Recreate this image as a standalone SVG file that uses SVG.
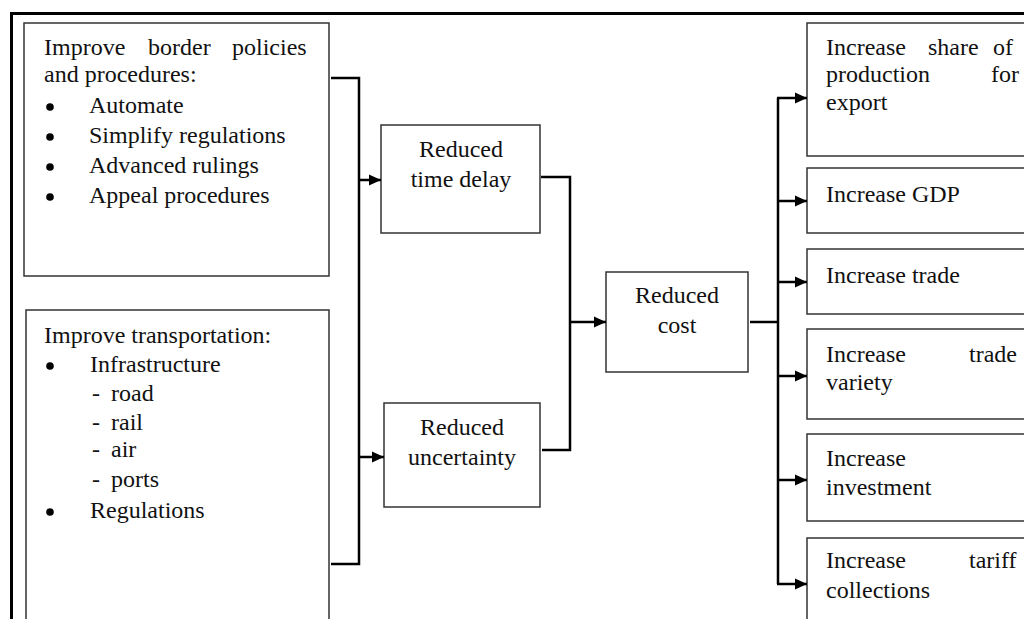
<svg xmlns="http://www.w3.org/2000/svg" width="1024" height="619" viewBox="0 0 1024 619">
<style>
.box{fill:#fff;stroke:#333;stroke-width:1.5}
.frame{fill:none;stroke:#000;stroke-width:3}
.t{font-family:'Liberation Serif','DejaVu Serif',serif;font-size:24px;fill:#111}
.c{text-anchor:middle}
.con{fill:none;stroke:#000;stroke-width:2.5}
</style>
<defs>
<marker id="ah" viewBox="0 0 12 12" refX="12" refY="6" markerWidth="12" markerHeight="12" markerUnits="userSpaceOnUse" orient="auto">
<path d="M0,0.5 L12,6 L0,11.5 Z" fill="#000"/>
</marker>
</defs>
<rect x="0" y="0" width="1024" height="619" fill="#fff"/>
<path class="frame" d="M11.5,640 V13.5 H1040"/>

<g id="border-policies">
<rect class="box" x="24" y="23" width="305" height="253"/>
<text class="t" y="55"><tspan x="44">Improve</tspan><tspan x="148">border</tspan><tspan x="232">policies</tspan></text>
<text class="t" x="44" y="82">and procedures:</text>
<circle cx="50" cy="107" r="3.8"/><text class="t" x="89" y="113">Automate</text>
<circle cx="50" cy="137" r="3.8"/><text class="t" x="89" y="143">Simplify regulations</text>
<circle cx="50" cy="167" r="3.8"/><text class="t" x="89" y="173">Advanced rulings</text>
<circle cx="50" cy="197" r="3.8"/><text class="t" x="89" y="203">Appeal procedures</text>
</g>

<g id="transportation">
<rect class="box" x="26" y="310" width="303" height="340"/>
<text class="t" x="44" y="343">Improve transportation:</text>
<circle cx="50" cy="366" r="3.8"/><text class="t" x="90" y="372">Infrastructure</text>
<text class="t" y="401"><tspan x="92">-</tspan><tspan x="111">road</tspan></text>
<text class="t" y="430"><tspan x="92">-</tspan><tspan x="111">rail</tspan></text>
<text class="t" y="457"><tspan x="92">-</tspan><tspan x="111">air</tspan></text>
<text class="t" y="487"><tspan x="92">-</tspan><tspan x="111">ports</tspan></text>
<circle cx="50" cy="512" r="3.8"/><text class="t" x="90" y="518">Regulations</text>
</g>

<g id="time-delay">
<rect class="box" x="381" y="125" width="159" height="108"/>
<text class="t c" x="461" y="157">Reduced</text>
<text class="t c" x="461" y="187">time delay</text>
</g>

<g id="uncertainty">
<rect class="box" x="384" y="403" width="156" height="104"/>
<text class="t c" x="462" y="435">Reduced</text>
<text class="t c" x="462" y="465">uncertainty</text>
</g>

<g id="cost">
<rect class="box" x="606" y="272" width="142" height="100"/>
<text class="t c" x="677" y="303">Reduced</text>
<text class="t c" x="677" y="333">cost</text>
</g>

<g id="share-export">
<rect class="box" x="807" y="23" width="230" height="133"/>
<text class="t" y="55"><tspan x="826">Increase</tspan><tspan x="928">share</tspan><tspan x="993">of</tspan></text>
<text class="t" y="82"><tspan x="826">production</tspan><tspan x="991">for</tspan></text>
<text class="t" x="826" y="110">export</text>
</g>

<g id="gdp">
<rect class="box" x="807" y="168" width="230" height="65"/>
<text class="t" x="826" y="202">Increase GDP</text>
</g>

<g id="trade">
<rect class="box" x="807" y="249" width="230" height="65"/>
<text class="t" x="826" y="283">Increase trade</text>
</g>

<g id="trade-variety">
<rect class="box" x="807" y="329" width="230" height="90"/>
<text class="t" y="362"><tspan x="826">Increase</tspan><tspan x="969">trade</tspan></text>
<text class="t" x="826" y="390">variety</text>
</g>

<g id="investment">
<rect class="box" x="807" y="434" width="230" height="87"/>
<text class="t" x="826" y="466">Increase</text>
<text class="t" x="826" y="495">investment</text>
</g>

<g id="tariff">
<rect class="box" x="807" y="538" width="230" height="120"/>
<text class="t" y="568"><tspan x="826">Increase</tspan><tspan x="969">tariff</tspan></text>
<text class="t" x="826" y="598">collections</text>
</g>

<g id="connectors">
<path class="con" d="M331,78 H359 V564 H331"/>
<path class="con" d="M359,180 H381" marker-end="url(#ah)"/>
<path class="con" d="M359,457 H384" marker-end="url(#ah)"/>
<path class="con" d="M541,177 H570 V450 H542"/>
<path class="con" d="M570,322 H606" marker-end="url(#ah)"/>
<path class="con" d="M750,322 H778"/>
<path class="con" d="M778,98 V584"/>
<path class="con" d="M777,98 H807" marker-end="url(#ah)"/>
<path class="con" d="M777,201 H807" marker-end="url(#ah)"/>
<path class="con" d="M777,282 H807" marker-end="url(#ah)"/>
<path class="con" d="M777,376 H807" marker-end="url(#ah)"/>
<path class="con" d="M777,480 H807" marker-end="url(#ah)"/>
<path class="con" d="M777,584 H807" marker-end="url(#ah)"/>
</g>
</svg>
